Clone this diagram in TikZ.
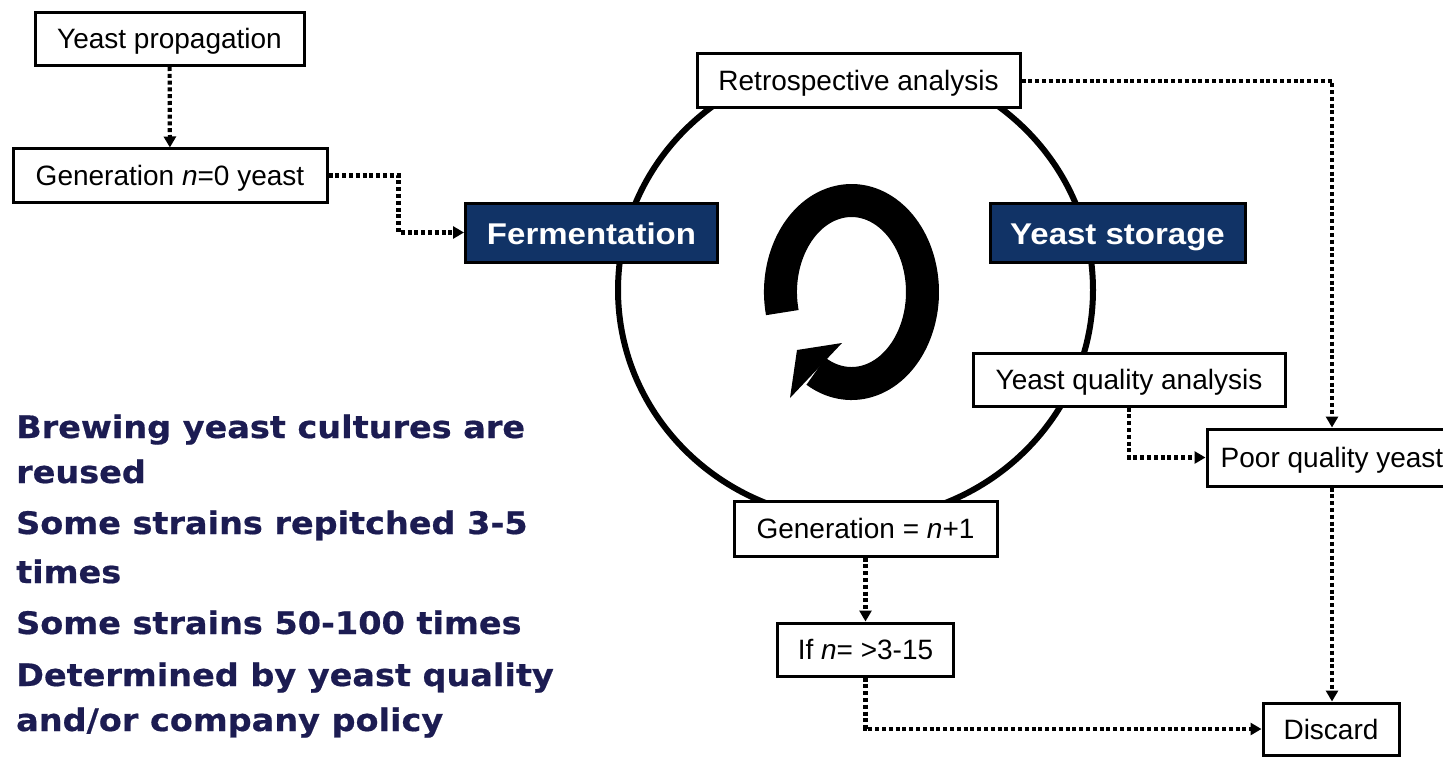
\documentclass[tikz,border=0pt]{standalone}
\usepackage{fontspec}
\setmainfont{Liberation Sans}
\newfontfamily\boldboxfont[FakeStretch=1.1]{Liberation Sans}
\newfontfamily\sidefont[FakeStretch=1.08,FakeBold=0.6]{DejaVu Sans}
\usetikzlibrary{arrows.meta}
\definecolor{navyfill}{RGB}{17,51,102}
\definecolor{navytext}{RGB}{28,28,82}
\tikzset{
  box/.style={draw=black, line width=3pt, fill=white, inner sep=0pt, text=black,
    text height=20pt, text depth=0pt, font=\fontsize{28}{32}\selectfont},
  darkbox/.style={draw=black, line width=3pt, fill=navyfill, inner sep=0pt, text=white,
    text height=23.6pt, text depth=0pt,
    font=\boldboxfont\bfseries\fontsize{30}{34}\selectfont},
  dotarrow/.style={line width=4.2pt, dash pattern=on 4pt off 2.8pt,
    -{Triangle[length=11pt,width=12pt]}},
  sidetext/.style={anchor=base west, inner sep=0pt, text=navytext,
    font=\sidefont\bfseries\fontsize{31}{34}\selectfont},
  ring/.style={line width=33pt, line cap=butt}
}
\begin{document}
\begin{tikzpicture}[x=1pt,y=-1pt]
\useasboundingbox (0,0) rectangle (1443,757);
\fill[white] (0,0) rectangle (1443,757);
\clip (0,0) rectangle (1443,757);

% big cycle
\draw[line width=6pt] (855.5,290) ellipse [x radius=237.5, y radius=230];

% circular arrow in the middle
\draw[ring] (782.3,312.6) arc[start angle=167, end angle=480, x radius=71, y radius=91.5];
\fill (797,350) -- (842,343) -- (790,398) -- cycle;

% boxes
\node[box, minimum width=269, minimum height=53] (prop) at (169.5,39) {Yeast propagation};
\node[box, minimum width=314, minimum height=53] (gen0) at (170,175.5) {Generation \textit{n}=0 yeast};
\node[darkbox, minimum width=252, minimum height=59] (ferm) at (591.5,232.5) {Fermentation};
\node[darkbox, minimum width=255, minimum height=59] (stor) at (1117.5,232.5) {Yeast storage};
\node[box, minimum width=323, minimum height=54] (retro) at (858.5,81) {Retrospective analysis};
\node[box, minimum width=312, minimum height=53] (yqa) at (1129,379.5) {Yeast quality analysis};
\node[box, minimum width=250, minimum height=57] (poor) at (1332,457.5) {Poor quality yeast};
\node[box, minimum width=263, minimum height=55] (gen1) at (865.5,528.5) {Generation = \textit{n}+1};
\node[box, minimum width=176, minimum height=53] (ifn) at (865.5,649.5) {If \textit{n}= >3-15};
\node[box, minimum width=136, minimum height=52] (disc) at (1331,729) {Discard};

% connectors
\draw[dotarrow] (prop) -- (gen0);
\draw[dotarrow] (gen0.east) -- ++(70,0) |- (ferm.west);
\draw[dotarrow] (retro.east) -| (poor.north);
\draw[dotarrow] (yqa.south) |- (poor.west);
\draw[dotarrow] (poor.south) -- (poor.south |- disc.north);
\draw[dotarrow] (gen1) -- (ifn);
\draw[dotarrow] (ifn.south) |- (disc.west);

% side text
\node[sidetext] (l1) at (16,438) {Brewing yeast cultures are};
\node[sidetext] (l2) at (16,483) {reused};
\node[sidetext] (l3) at (16,534) {Some strains repitched 3-5};
\node[sidetext] (l4) at (16,583) {times};
\node[sidetext] (l5) at (16,634) {Some strains 50-100 times};
\node[sidetext] (l6) at (16,686) {Determined by yeast quality};
\node[sidetext] (l7) at (16,731) {and/or company policy};
\end{tikzpicture}
\end{document}
